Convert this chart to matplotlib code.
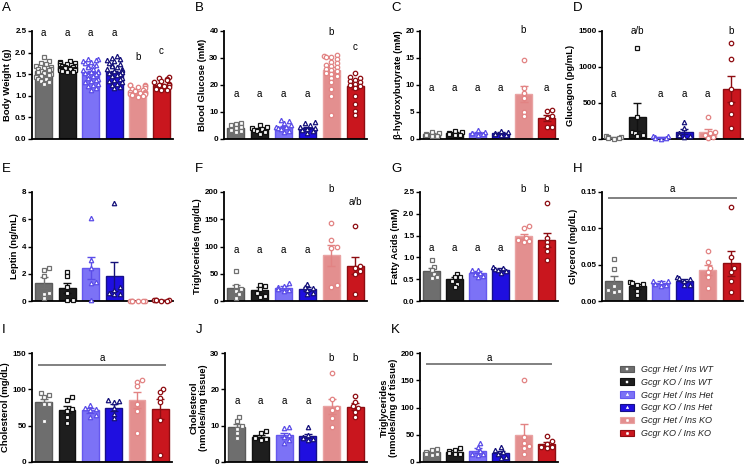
import numpy as np
import matplotlib
matplotlib.use("Agg")
import matplotlib.pyplot as plt
from matplotlib.patches import Patch
from matplotlib.lines import Line2D

plt.rcParams['font.family'] = ['Liberation Sans', 'DejaVu Sans']

# ---------------- data ----------------
groups = ["Gcgr Het / Ins WT", "Gcgr KO / Ins WT", "Gcgr Het / Ins Het",
          "Gcgr KO / Ins Het", "Gcgr Het / Ins KO", "Gcgr KO / Ins KO"]

# A Body weight
bw_pts = [
    [1.90,1.80,1.76,1.73,1.70,1.67,1.65,1.63,1.61,1.59,1.57,1.55,1.53,1.51,1.48,1.46,1.43,1.40,1.38,1.35,1.32,1.28],
    [1.81,1.79,1.77,1.75,1.73,1.71,1.70,1.68,1.67,1.66,1.65,1.64,1.63,1.62,1.61,1.60,1.59,1.58,1.57,1.56,1.55],
    [1.86,1.85,1.83,1.80,1.78,1.75,1.72,1.70,1.68,1.66,1.63,1.60,1.58,1.56,1.54,1.52,1.50,1.48,1.45,1.42,1.40,1.37,1.34,1.31,1.28,1.25,1.22,1.18,1.14],
    [1.93,1.88,1.85,1.82,1.80,1.77,1.74,1.71,1.68,1.66,1.63,1.61,1.59,1.57,1.55,1.53,1.51,1.49,1.47,1.45,1.42,1.40,1.37,1.34,1.31,1.28,1.25,1.21,1.17],
    [1.26,1.25,1.24,1.22,1.20,1.18,1.16,1.14,1.12,1.10,1.09,1.08,1.07,1.06,1.05,1.04,1.03,1.02,1.00,0.98],
    [1.43,1.41,1.38,1.36,1.34,1.31,1.28,1.26,1.24,1.22,1.20,1.18,1.16,1.14,1.13],
]
bw_mean = [1.57, 1.66, 1.55, 1.55, 1.10, 1.25]
bw_sem = [0.03, 0.02, 0.03, 0.03, 0.02, 0.03]
bw_letters = ["a", "a", "a", "a", "b", "c"]
bw_letter_y = [2.45, 2.45, 2.45, 2.45, 1.90, 2.03]

# B Blood glucose
gl_pts = [
    [6.0,5.5,5.0,4.5,4.0,3.5,3.0,2.5],
    [5.0,4.5,4.0,3.8,3.5,3.0,2.5,1.8],
    [7.0,6.5,5.8,5.0,4.6,4.3,4.0,3.6,3.0,2.5],
    [6.2,5.8,5.2,4.6,4.2,3.8,3.3,2.8,2.3],
    [31.0,30.8,30.5,30.2,29.5,28.5,28.0,27.5,27.0,26.5,26.0,25.5,25.0,24.5,24.0,23.5,22.5,21.0,18.5,16.0,9.0],
    [24.5,23.0,22.5,22.0,21.5,21.0,20.5,20.0,19.5,19.0,16.0,13.0,10.5,9.0],
]
gl_mean = [4.2, 3.6, 4.5, 4.0, 25.5, 19.7]
gl_sem = [0.4, 0.35, 0.4, 0.4, 1.0, 1.2]
gl_letters = ["a", "a", "a", "a", "b", "c"]
gl_letter_y = [16.5, 16.5, 16.5, 16.5, 39.5, 34.0]

# C beta-hydroxybutyrate
bh_pts = [
    [1.3,1.1,0.9,0.8,0.6,0.5],
    [1.5,1.3,1.1,1.0,0.8,0.7],
    [1.6,1.3,1.2,1.1,0.9,0.8],
    [1.5,1.3,1.1,1.0,0.8,0.7],
    [14.6,9.5,8.5,7.5,5.0,4.2],
    [5.3,5.2,4.2,3.9,2.3,2.2],
]
bh_mean = [0.9, 1.1, 1.2, 1.1, 8.3, 3.9]
bh_sem = [0.15, 0.15, 0.15, 0.15, 1.5, 0.6]
bh_letters = ["a", "a", "a", "a", "b", "a"]
bh_letter_y = [9.5, 9.5, 9.5, 9.5, 20.2, 9.5]

# D Glucagon
gc_pts = [
    [40, 30, 25, 15, 10, 5],
    [1265, 300, 95, 85, 60, 40],
    [40, 35, 30, 20, 10, 5],
    [230, 150, 80, 60, 40, 30],
    [310, 100, 80, 60, 30, 10],
    [1330, 1110, 700, 500, 350, 150],
]
gc_mean = [20, 300, 25, 100, 100, 690]
gc_sem = [6, 195, 6, 35, 45, 180]
gc_letters = ["a", "a/b", "a", "a", "a", "b"]
gc_letter_y = [620, 1500, 620, 620, 620, 1500]

# E Leptin
lp_pts = [
    [2.45, 2.3, 1.85, 0.6, 0.5, 0.2],
    [2.1, 1.8, 1.0, 0.6, 0.05, 0.05],
    [6.1, 3.0, 2.4, 1.4, 1.3, 0.05],
    [7.2, 1.0, 0.8, 0.6, 0.5, 0.5],
    [0.03, 0.02, 0.02, 0.01, 0.01, 0.01],
    [0.08, 0.07, 0.06, 0.04, 0.03, 0.02],
]
lp_mean = [1.35, 0.95, 2.4, 1.8, 0.02, 0.05]
lp_sem = [0.4, 0.35, 0.8, 1.05, 0.01, 0.01]

# F Triglycerides (plasma)
tg_pts = [
    [55, 28, 22, 18, 12, 5],
    [30, 27, 22, 15, 10, 8],
    [33, 28, 25, 22, 20, 18],
    [32, 26, 24, 20, 15, 12],
    [143, 112, 100, 97, 30, 25],
    [137, 65, 60, 55, 50, 13],
]
tg_mean = [23, 20, 24, 22, 84, 65]
tg_sem = [7, 5, 3, 3, 19, 16]
tg_letters = ["a", "a", "a", "a", "b", "a/b"]
tg_letter_y = [93, 93, 93, 93, 205, 182]

# G Fatty acids
fa_pts = [
    [0.93, 0.78, 0.70, 0.62, 0.55, 0.53],
    [0.62, 0.55, 0.55, 0.45, 0.40, 0.32],
    [0.72, 0.70, 0.65, 0.62, 0.58, 0.55],
    [0.78, 0.76, 0.74, 0.72, 0.68, 0.65],
    [1.72, 1.68, 1.45, 1.40, 1.38, 1.36],
    [2.25, 1.45, 1.35, 1.25, 1.15, 0.95],
]
fa_mean = [0.68, 0.50, 0.65, 0.72, 1.48, 1.40]
fa_sem = [0.07, 0.05, 0.03, 0.03, 0.06, 0.17]
fa_letters = ["a", "a", "a", "a", "b", "b"]
fa_letter_y = [1.22, 1.22, 1.22, 1.22, 2.56, 2.56]

# H Glycerol
gy_pts = [
    [0.058, 0.044, 0.020, 0.015, 0.012, 0.014],
    [0.026, 0.025, 0.023, 0.022, 0.014, 0.008],
    [0.028, 0.027, 0.026, 0.024, 0.022, 0.020],
    [0.033, 0.032, 0.030, 0.028, 0.022, 0.022],
    [0.069, 0.053, 0.045, 0.040, 0.033, 0.018],
    [0.130, 0.060, 0.045, 0.040, 0.027, 0.012],
]
gy_mean = [0.027, 0.020, 0.025, 0.028, 0.043, 0.052]
gy_sem = [0.008, 0.004, 0.002, 0.002, 0.007, 0.017]

# I Cholesterol (plasma)
ch_pts = [
    [95, 92, 90, 80, 80, 57],
    [89, 86, 73, 70, 62, 54],
    [78, 75, 73, 72, 65, 62],
    [86, 84, 82, 75, 66, 60],
    [113, 110, 104, 80, 70, 40],
    [101, 96, 88, 82, 58, 10],
]
ch_mean = [82, 72, 71, 75, 86, 73]
ch_sem = [5, 5, 3, 5, 11, 14]

# J Cholesterol (tissue)
ct_pts = [
    [12.3, 11.3, 9.8, 9.2, 8.0, 6.6],
    [8.6, 8.0, 7.0, 6.6, 6.3, 6.0],
    [9.5, 9.4, 7.5, 7.0, 6.0, 5.3],
    [9.5, 7.4, 7.0, 6.6, 6.3, 6.0],
    [24.6, 17.3, 15.0, 14.2, 12.0, 9.6],
    [18.2, 16.6, 15.5, 14.8, 13.8, 12.3],
]
ct_mean = [9.6, 7.0, 7.5, 7.2, 15.3, 15.2]
ct_sem = [0.9, 0.5, 0.6, 0.5, 2.0, 1.0]
ct_letters = ["a", "a", "a", "a", "b", "b"]
ct_letter_y = [16.8, 16.8, 16.8, 16.8, 28.6, 28.6]

# K Triglycerides (tissue)
tt_pts = [
    [24, 22, 18, 15, 14, 13],
    [26, 22, 20, 17, 15, 14],
    [35, 28, 20, 15, 14, 13],
    [27, 22, 18, 15, 10, 8],
    [150, 45, 35, 30, 25, 15],
    [48, 38, 33, 28, 28, 25],
]
tt_mean = [18, 19, 21, 17, 50, 33]
tt_sem = [3, 3, 4, 3, 20, 4]

# ---------------- style ----------------
bar_face = ["#6e6e6e", "#1e1e1e", "#7c72f6", "#1f0fe0", "#e38f8f", "#c9161e"]
bar_edge = ["#5a5a5a", "#111111", "#6558ee", "#16108a", "#e9a3a3", "#8e0d12"]
pt_edge = ["#707070", "#111111", "#5b4de8", "#15117a", "#e28383", "#8e0d12"]
markers = ["s", "s", "^", "^", "o", "o"]

W, H = 745, 466
fig = plt.figure(figsize=(W / 100, H / 100), dpi=100)


def add_axes(l, r, t, b):
    return fig.add_axes([l / W, 1 - b / H, (r - l) / W, (b - t) / H])


def swarm_offsets(vals, ax_w_px, ax_h_px, yr, d=4.4, maxoff=7.5):
    pxu_x = ax_w_px / 6.0
    pxu_y = ax_h_px / yr
    order = np.argsort(vals)
    placed = []
    offs = np.zeros(len(vals))
    cands = [0]
    for k in range(1, 8):
        cands += [k * d * 0.6, -k * d * 0.6]
    for i in order:
        y = vals[i] * pxu_y
        best = None
        for c in cands:
            if abs(c) > maxoff:
                continue
            ok = all((c - px) ** 2 + (y - py) ** 2 >= (d * 0.9) ** 2 for px, py in placed)
            if ok:
                best = c
                break
        if best is None:
            best = cands[(len(placed) % 10) + 1]
            if abs(best) > maxoff:
                best = np.sign(best) * maxoff
        placed.append((best, y))
        offs[i] = best / pxu_x
    return offs


def panel(box, letter, pts, means, sems, ylim, ticks, ticklabels, ylabel,
          letters=None, letter_y=None, line=None, ylabelpad=2):
    l, r, t, b = box
    ax = add_axes(l, r, t, b)
    x = np.arange(6)
    for i in range(6):
        ax.bar(x[i], means[i], width=0.72, color=bar_face[i], edgecolor=bar_edge[i],
               linewidth=1.0, zorder=2)
        ax.errorbar(x[i], means[i], yerr=sems[i], color=pt_edge[i], capsize=3,
                    elinewidth=1.0, capthick=1.0, zorder=4, fmt='none')
        vals = np.array(pts[i], dtype=float)
        offs = swarm_offsets(vals, r - l, b - t, ylim[1] - ylim[0])
        ax.plot(x[i] + offs, vals, ls='none', marker=markers[i], ms=3.2,
                mfc='white', mec=pt_edge[i], mew=0.9, zorder=5, clip_on=False)
    ax.set_xlim(-0.5, 5.5)
    ax.set_ylim(*ylim)
    ax.set_yticks(ticks)
    ax.set_yticklabels(ticklabels, fontsize=5.8, fontweight='bold')
    ax.set_xticks([])
    for s in ['top', 'right']:
        ax.spines[s].set_visible(False)
    ax.spines['left'].set_linewidth(1.3)
    ax.spines['bottom'].set_linewidth(1.3)
    ax.tick_params(axis='y', length=3, width=1.0, pad=1)
    ax.set_ylabel(ylabel, fontsize=6.8, fontweight='bold', labelpad=ylabelpad,
                  linespacing=1.05)
    if letters is not None:
        for i in range(6):
            ax.text(x[i], letter_y[i], letters[i], ha='center', va='center',
                    fontsize=7.0, clip_on=False)
    if line is not None:
        ly, ty = line
        ax.plot([-0.2, 5.2], [ly, ly], color='#808080', lw=1.4, zorder=3, clip_on=False)
        ax.text(2.5, ty, 'a', ha='center', va='center', fontsize=7.0)
    fig.text((l - 29) / W if l > 40 else 2 / W, 1 - (t - 23) / H, letter,
             fontsize=9.5, ha='left', va='center')
    return ax


r1t, r1b = 31, 139
r2t, r2b = 192, 301
r3t, r3b = 353, 462

panel((32, 173, r1t, r1b), "A", bw_pts, bw_mean, bw_sem, (0, 2.5),
      [0, 0.5, 1.0, 1.5, 2.0, 2.5], ["0.0", "0.5", "1.0", "1.5", "2.0", "2.5"],
      "Body Weight (g)", bw_letters, bw_letter_y)
panel((224, 367, r1t, r1b), "B", gl_pts, gl_mean, gl_sem, (0, 40),
      [0, 10, 20, 30, 40], ["0", "10", "20", "30", "40"],
      "Blood Glucose (mM)", gl_letters, gl_letter_y)
panel((420, 558, r1t, r1b), "C", bh_pts, bh_mean, bh_sem, (0, 20),
      [0, 5, 10, 15, 20], ["0", "5", "10", "15", "20"],
      "β-hydroxybutyrate (mM)", bh_letters, bh_letter_y)
panel((602, 743, r1t, r1b), "D", gc_pts, gc_mean, gc_sem, (0, 1500),
      [0, 500, 1000, 1500], ["0", "500", "1000", "1500"],
      "Glucagon (pg/mL)", gc_letters, gc_letter_y)

panel((32, 173, r2t, r2b), "E", lp_pts, lp_mean, lp_sem, (0, 8),
      [0, 2, 4, 6, 8], ["0", "2", "4", "6", "8"], "Leptin (ng/mL)")
panel((224, 367, r2t, r2b), "F", tg_pts, tg_mean, tg_sem, (0, 200),
      [0, 50, 100, 150, 200], ["0", "50", "100", "150", "200"],
      "Triglycerides (mg/dL)", tg_letters, tg_letter_y)
panel((420, 558, r2t, r2b), "G", fa_pts, fa_mean, fa_sem, (0, 2.5),
      [0, 0.5, 1.0, 1.5, 2.0, 2.5], ["0.0", "0.5", "1.0", "1.5", "2.0", "2.5"],
      "Fatty Acids (mM)", fa_letters, fa_letter_y)
panel((602, 743, r2t, r2b), "H", gy_pts, gy_mean, gy_sem, (0, 0.15),
      [0, 0.05, 0.10, 0.15], ["0.00", "0.05", "0.10", "0.15"],
      "Glycerol (mg/dL)", line=(0.1417, 0.154))

panel((32, 172, r3t, r3b), "I", ch_pts, ch_mean, ch_sem, (0, 150),
      [0, 50, 100, 150], ["0", "50", "100", "150"],
      "Cholesterol (mg/dL)", line=(134, 143))
panel((225, 367, r3t, r3b), "J", ct_pts, ct_mean, ct_sem, (0, 30),
      [0, 10, 20, 30], ["0", "10", "20", "30"],
      "Cholesterol\n(nmoles/mg tissue)", ct_letters, ct_letter_y)
panel((420, 558, r3t, r3b), "K", tt_pts, tt_mean, tt_sem, (0, 200),
      [0, 50, 100, 150, 200], ["0", "50", "100", "150", "200"],
      "Triglycerides\n(nmoles/mg of tissue)", line=(179, 191))

# legend
handles = []
for i in range(6):
    handles.append((Patch(facecolor=bar_face[i], edgecolor=bar_edge[i], linewidth=0.8),
                    Line2D([], [], ls='none', marker=markers[i], ms=1.8, mfc='white',
                           mec='white', mew=0.3)))
leg = fig.legend(handles, groups, loc='upper left',
                 bbox_to_anchor=(620 / W, 1 - 365 / H), frameon=False,
                 prop={'size': 6.5, 'style': 'italic'}, handlelength=1.5,
                 handleheight=0.75, labelspacing=0.42, handletextpad=0.8,
                 borderaxespad=0, borderpad=0)
for txt in leg.get_texts():
    txt.set_color('#222222')

fig.savefig("out.png", dpi=100)
